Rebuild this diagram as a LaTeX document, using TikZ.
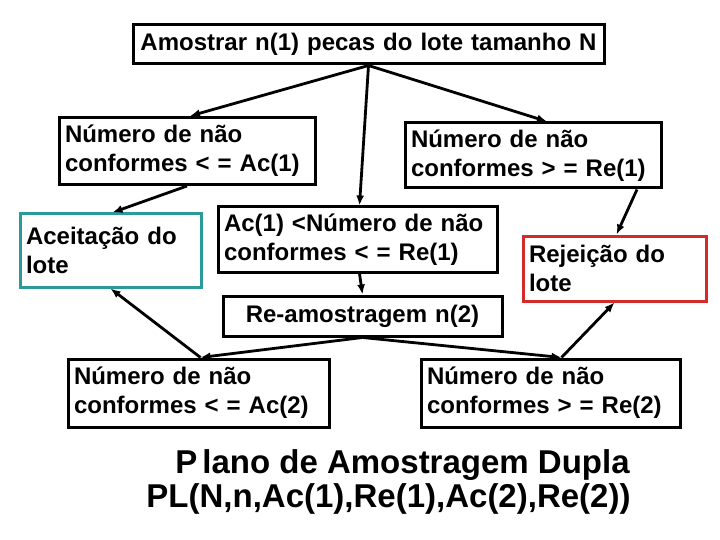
\documentclass[tikz,border=0pt]{standalone}
\usepackage{fontspec}
\setmainfont{Liberation Sans}
\usetikzlibrary{arrows.meta}
\definecolor{tealb}{HTML}{2A9A9A}
\definecolor{redb}{HTML}{D42A2A}
\begin{document}
\begin{tikzpicture}[x=1pt,y=-1pt,
  box/.style={draw=black, line width=3pt, inner xsep=6pt, inner ysep=0pt, align=left,
    font=\fontsize{24}{29}\selectfont\bfseries, anchor=center},
  conn/.style={line width=2.8pt, -{Latex[length=10pt,width=8pt]}},
  ttl/.style={font=\fontsize{33}{35}\selectfont\bfseries, inner sep=0pt}]
\useasboundingbox[fill=white] (0,0) rectangle (720,540);
\node[box, text width=459pt, minimum height=39pt, align=center] (top) at (368.5,44.5) {Amostrar n(1) pecas do lote tamanho N};
\node[box, text width=244pt, minimum height=67pt] (A1) at (187,151) {Número de não\\conformes < = Ac(1)};
\node[box, text width=244pt, minimum height=65pt] (R1) at (533,155.5) {Número de não\\conformes > = Re(1)};
\node[box, draw=tealb, text width=169pt, minimum height=73pt] (acc) at (110.5,250.5) {Aceitação do\\lote};
\node[box, text width=267pt, minimum height=65pt] (M) at (357.5,239.5) {Ac(1) <Número de não\\conformes < = Re(1)};
\node[box, draw=redb, text width=171pt, minimum height=65pt] (rej) at (614.5,268.5) {Rejeição do\\lote};
\node[box, text width=267pt, minimum height=40pt, align=center] (re2) at (362.5,316) {Re-amostragem n(2)};
\node[box, text width=249pt, minimum height=68pt] (B1) at (198.5,393) {Número de não\\conformes < = Ac(2)};
\node[box, text width=247pt, minimum height=68pt] (B2) at (550.5,393) {Número de não\\conformes > = Re(2)};
\node[ttl] (t1) at (402.5,465) {P\kern5pt lano de Amostragem Dupla};
\node[ttl] (t2) at (388.5,499) {PL(N,n,Ac(1),Re(1),Ac(2),Re(2))};
\draw[conn] (top.south) -- ([xshift=3pt]A1.north);
\draw[conn] (top.south) -- ([xshift=14pt]R1.north);
\draw[conn] (top.south) -- ([xshift=2pt]M.north);
\draw[conn] (A1.south) -- ([xshift=2pt]acc.north);
\draw[conn] ([xshift=104pt]R1.south) -- ([xshift=2pt]rej.north);
\draw[conn] ([xshift=2pt]M.south) -- (re2.north);
\draw[conn] (re2.south) -- ([xshift=2pt]B1.north);
\draw[conn] (re2.south) -- ([xshift=11pt]B2.north);
\draw[conn] ([xshift=2pt]B1.north) -- (acc.south);
\draw[conn] ([xshift=11pt]B2.north) -- (rej.south);
\end{tikzpicture}
\end{document}
